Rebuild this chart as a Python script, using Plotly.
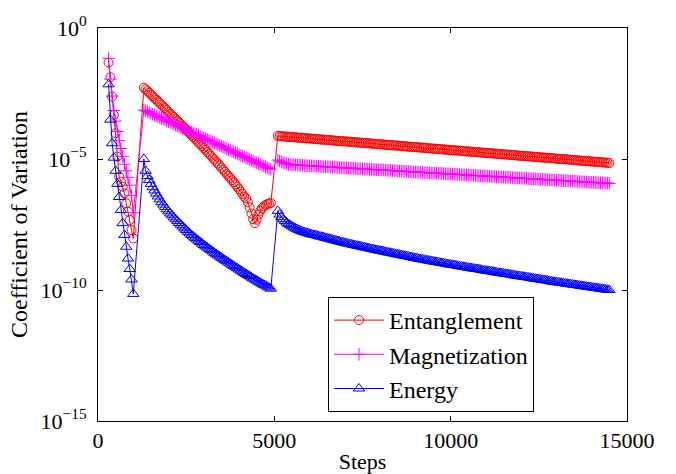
import plotly.graph_objects as go

# ---------------- data (log10 of coefficient of variation) ----------------
steps_seg1 = list(range(300, 1001, 50))
steps_seg2 = list(range(1300, 4901, 50))
steps_seg3 = list(range(5100, 14501, 50))
steps = steps_seg1 + steps_seg2 + steps_seg3

ent_seg1 = [-1.32, -1.88, -2.62, -3.32, -4.02, -4.91, -5.68, -5.87, -6.06, -6.31,
            -6.69, -7.01, -7.33, -7.71, -8.03]
ent_seg2 = [-2.28, -2.34, -2.41, -2.47, -2.54, -2.60, -2.67, -2.73, -2.80, -2.86,
            -2.93, -3.00, -3.06, -3.13, -3.20, -3.27, -3.33, -3.40, -3.47, -3.54,
            -3.61, -3.67, -3.74, -3.81, -3.88, -3.95, -4.02, -4.09, -4.16, -4.23,
            -4.30, -4.37, -4.44, -4.51, -4.58, -4.65, -4.73, -4.80, -4.87, -4.95,
            -5.02, -5.10, -5.17, -5.25, -5.33, -5.41, -5.49, -5.57, -5.65, -5.73,
            -5.81, -5.89, -5.97, -6.06, -6.15, -6.24, -6.34, -6.44, -6.50, -6.65,
            -6.85, -7.08, -7.30, -7.45, -7.32, -7.12, -6.98, -6.88, -6.81, -6.76,
            -6.72, -6.70, -6.68]
ent_seg3 = [-4.12, -4.13, -4.13, -4.14, -4.14, -4.15, -4.15, -4.16, -4.16, -4.17,
            -4.17, -4.18, -4.19, -4.19, -4.20, -4.20, -4.21, -4.21, -4.22, -4.22,
            -4.23, -4.24, -4.24, -4.25, -4.25, -4.26, -4.26, -4.27, -4.27, -4.28,
            -4.28, -4.29, -4.30, -4.30, -4.31, -4.31, -4.32, -4.32, -4.33, -4.33,
            -4.34, -4.34, -4.35, -4.36, -4.36, -4.37, -4.37, -4.38, -4.38, -4.39,
            -4.39, -4.40, -4.40, -4.41, -4.42, -4.42, -4.43, -4.43, -4.44, -4.44,
            -4.45, -4.45, -4.46, -4.47, -4.47, -4.48, -4.48, -4.49, -4.49, -4.50,
            -4.50, -4.51, -4.51, -4.52, -4.53, -4.53, -4.54, -4.54, -4.55, -4.55,
            -4.56, -4.56, -4.57, -4.57, -4.58, -4.59, -4.59, -4.60, -4.60, -4.61,
            -4.61, -4.62, -4.62, -4.63, -4.64, -4.64, -4.65, -4.65, -4.66, -4.66,
            -4.67, -4.67, -4.68, -4.68, -4.69, -4.70, -4.70, -4.71, -4.71, -4.72,
            -4.72, -4.73, -4.73, -4.74, -4.74, -4.75, -4.76, -4.76, -4.77, -4.77,
            -4.78, -4.78, -4.79, -4.79, -4.80, -4.81, -4.81, -4.82, -4.82, -4.83,
            -4.83, -4.84, -4.84, -4.85, -4.85, -4.86, -4.87, -4.87, -4.88, -4.88,
            -4.89, -4.89, -4.90, -4.90, -4.91, -4.91, -4.92, -4.93, -4.93, -4.94,
            -4.94, -4.95, -4.95, -4.96, -4.96, -4.97, -4.97, -4.98, -4.99, -4.99,
            -5.00, -5.00, -5.01, -5.01, -5.02, -5.02, -5.03, -5.04, -5.04, -5.05,
            -5.05, -5.06, -5.06, -5.07, -5.07, -5.08, -5.08, -5.09, -5.10, -5.10,
            -5.11, -5.11, -5.12, -5.12, -5.13, -5.13, -5.14, -5.14, -5.15]

mag_seg1 = [-1.16, -1.95, -2.60, -3.15, -3.55, -3.95, -4.30, -4.60, -4.90, -5.20,
            -5.45, -5.70, -6.00, -6.40, -7.05]
mag_seg2 = [-3.13, -3.16, -3.19, -3.22, -3.26, -3.29, -3.32, -3.35, -3.38, -3.41,
            -3.44, -3.48, -3.51, -3.54, -3.57, -3.60, -3.63, -3.66, -3.70, -3.73,
            -3.76, -3.79, -3.82, -3.85, -3.88, -3.92, -3.95, -3.98, -4.01, -4.04,
            -4.07, -4.10, -4.14, -4.17, -4.20, -4.23, -4.26, -4.29, -4.32, -4.35,
            -4.39, -4.42, -4.45, -4.48, -4.51, -4.54, -4.57, -4.61, -4.64, -4.67,
            -4.70, -4.73, -4.76, -4.79, -4.83, -4.86, -4.89, -4.92, -4.95, -4.98,
            -5.01, -5.05, -5.08, -5.11, -5.14, -5.17, -5.20, -5.23, -5.27, -5.30,
            -5.33, -5.36, -5.39]
mag_seg3 = [-5.04, -5.08, -5.11, -5.14, -5.16, -5.18, -5.20, -5.21, -5.22,
            -5.22, -5.23, -5.23, -5.24, -5.24, -5.24, -5.25, -5.25, -5.26, -5.26,
            -5.26, -5.27, -5.27, -5.28, -5.28, -5.28, -5.29, -5.29, -5.29, -5.30,
            -5.30, -5.31, -5.31, -5.31, -5.32, -5.32, -5.33, -5.33, -5.33, -5.34,
            -5.34, -5.35, -5.35, -5.35, -5.36, -5.36, -5.37, -5.37, -5.37, -5.38,
            -5.38, -5.39, -5.39, -5.39, -5.40, -5.40, -5.41, -5.41, -5.41, -5.42,
            -5.42, -5.42, -5.43, -5.43, -5.44, -5.44, -5.44, -5.45, -5.45, -5.46,
            -5.46, -5.46, -5.47, -5.47, -5.48, -5.48, -5.48, -5.49, -5.49, -5.50,
            -5.50, -5.50, -5.51, -5.51, -5.52, -5.52, -5.52, -5.53, -5.53, -5.54,
            -5.54, -5.54, -5.55, -5.55, -5.55, -5.56, -5.56, -5.57, -5.57, -5.57,
            -5.58, -5.58, -5.59, -5.59, -5.59, -5.60, -5.60, -5.61, -5.61, -5.61,
            -5.62, -5.62, -5.63, -5.63, -5.63, -5.64, -5.64, -5.65, -5.65, -5.65,
            -5.66, -5.66, -5.67, -5.67, -5.67, -5.68, -5.68, -5.68, -5.69, -5.69,
            -5.70, -5.70, -5.70, -5.71, -5.71, -5.72, -5.72, -5.72, -5.73, -5.73,
            -5.74, -5.74, -5.74, -5.75, -5.75, -5.76, -5.76, -5.76, -5.77, -5.77,
            -5.78, -5.78, -5.78, -5.79, -5.79, -5.80, -5.80, -5.80, -5.81, -5.81,
            -5.81, -5.82, -5.82, -5.83, -5.83, -5.83, -5.84, -5.84, -5.85, -5.85,
            -5.85, -5.86, -5.86, -5.87, -5.87, -5.87, -5.88, -5.88, -5.89, -5.89,
            -5.89, -5.90, -5.90, -5.91, -5.91, -5.91, -5.92, -5.92, -5.92, -5.93]

eng_seg1 = [-2.15, -3.50, -4.40, -4.95, -5.45, -5.95, -6.45, -6.95, -7.45, -7.90,
            -8.35, -8.80, -9.20, -9.60, -10.15]
eng_seg2 = [-5.00, -5.45, -5.65, -5.80, -5.95, -6.08, -6.20, -6.32, -6.43, -6.54,
            -6.65, -6.74, -6.83, -6.92, -7.00, -7.08, -7.15, -7.23, -7.30, -7.37,
            -7.44, -7.51, -7.58, -7.65, -7.71, -7.78, -7.84, -7.90, -7.96, -8.01,
            -8.07, -8.12, -8.17, -8.23, -8.28, -8.33, -8.38, -8.43, -8.48, -8.53,
            -8.58, -8.63, -8.68, -8.72, -8.77, -8.81, -8.86, -8.90, -8.95, -8.99,
            -9.04, -9.08, -9.13, -9.17, -9.22, -9.26, -9.30, -9.35, -9.39, -9.43,
            -9.47, -9.52, -9.56, -9.60, -9.64, -9.68, -9.72, -9.76, -9.80, -9.83,
            -9.87, -9.91, -9.95]
eng_seg3 = [-6.98, -7.12, -7.22, -7.30, -7.37, -7.43, -7.48, -7.53, -7.57, -7.61,
            -7.65, -7.68, -7.71, -7.74, -7.77, -7.79, -7.81, -7.83, -7.85,
            -7.87, -7.89, -7.90, -7.92, -7.94, -7.96, -7.97, -7.99, -8.01, -8.03,
            -8.04, -8.06, -8.08, -8.10, -8.11, -8.13, -8.15, -8.17, -8.18, -8.20,
            -8.22, -8.23, -8.25, -8.26, -8.28, -8.29, -8.31, -8.32, -8.34, -8.35,
            -8.37, -8.38, -8.40, -8.41, -8.43, -8.44, -8.46, -8.47, -8.49, -8.50,
            -8.51, -8.53, -8.54, -8.56, -8.57, -8.58, -8.60, -8.61, -8.63, -8.64,
            -8.65, -8.67, -8.68, -8.70, -8.71, -8.72, -8.74, -8.75, -8.77, -8.78,
            -8.79, -8.81, -8.82, -8.83, -8.84, -8.86, -8.87, -8.88, -8.89, -8.91,
            -8.92, -8.93, -8.94, -8.96, -8.97, -8.98, -8.99, -9.01, -9.02, -9.03,
            -9.04, -9.05, -9.06, -9.08, -9.09, -9.10, -9.11, -9.12, -9.13, -9.15,
            -9.16, -9.17, -9.18, -9.19, -9.20, -9.21, -9.22, -9.24, -9.25, -9.26,
            -9.27, -9.28, -9.29, -9.30, -9.31, -9.33, -9.34, -9.35, -9.36, -9.37,
            -9.38, -9.39, -9.40, -9.41, -9.42, -9.44, -9.45, -9.46, -9.47, -9.48,
            -9.49, -9.50, -9.51, -9.52, -9.53, -9.55, -9.56, -9.57, -9.58, -9.59,
            -9.60, -9.61, -9.62, -9.63, -9.64, -9.66, -9.67, -9.68, -9.69, -9.70,
            -9.71, -9.72, -9.73, -9.74, -9.75, -9.76, -9.77, -9.78, -9.79, -9.80,
            -9.81, -9.82, -9.83, -9.84, -9.85, -9.86, -9.87, -9.88, -9.89, -9.90,
            -9.91, -9.92, -9.93, -9.94, -9.95, -9.96, -9.97, -9.98, -9.99, -10.00]

x_ticks = [0, 5000, 10000, 15000]
y_tick_exponents = [0, -5, -10, -15]

series = [
    ("Entanglement", ent_seg1 + ent_seg2 + ent_seg3, "#FF0000", "circle-open", 9),
    ("Magnetization", mag_seg1 + mag_seg2 + mag_seg3, "#FF00FF", "cross-thin-open", 9),
    ("Energy", eng_seg1 + eng_seg2 + eng_seg3, "#0000FF", "triangle-up-open", 10),
]

FONT = "Liberation Serif"

fig = go.Figure()
for i, (name, logs, color, symbol, size) in enumerate(series):
    pairs = list(zip(steps, logs))
    fig.add_trace(go.Scatter(
        x=[p[0] for p in pairs],
        y=[10 ** p[1] for p in pairs],
        mode="lines+markers",
        name=name,
        legendgroup=f"g{i}",
        line=dict(color=color, width=1),
        marker=dict(symbol=symbol, size=size, color=color,
                    line=dict(color=color, width=1)),
    ))

fig.update_layout(
    width=676, height=474,
    margin=dict(l=98, r=49, t=28, b=53),
    paper_bgcolor="white", plot_bgcolor="white",
    font=dict(family=FONT, size=22, color="black"),
    showlegend=True,
    legend=dict(
        x=0.4348, y=0.3155, xanchor="left", yanchor="top",
        bgcolor="white", bordercolor="black", borderwidth=1,
        font=dict(family=FONT, size=24, color="black"),
        traceorder="grouped", tracegroupgap=0, itemwidth=50,
    ),
)
fig.update_xaxes(
    range=[0, 15000], tickvals=x_ticks, ticktext=[str(v) for v in x_ticks],
    ticks="inside", ticklen=5, tickcolor="black",
    showline=True, linecolor="black", linewidth=1, mirror="ticks",
    showgrid=False, zeroline=False, automargin=False,
    tickfont=dict(family=FONT, size=22),
    title=dict(text="Steps", font=dict(family=FONT, size=22), standoff=4),
)
fig.update_yaxes(
    type="log", range=[-15, 0],
    tickvals=[10.0 ** e for e in y_tick_exponents],
    ticktext=["10<sup>%s</sup>" % (str(e).replace("-", "\u2212")) for e in y_tick_exponents],
    ticks="inside", ticklen=5, tickcolor="black",
    showline=True, linecolor="black", linewidth=1, mirror="ticks",
    showgrid=False, zeroline=False, automargin=False,
    tickfont=dict(family=FONT, size=22),
    ticklabelstandoff=6,
    title=dict(text="Coefficient of Variation", font=dict(family=FONT, size=24), standoff=6),
)

fig.write_html(
    "out.html",
    config={"displayModeBar": False},
    post_script="document.body.style.margin='0px';document.body.style.overflow='hidden';",
)
